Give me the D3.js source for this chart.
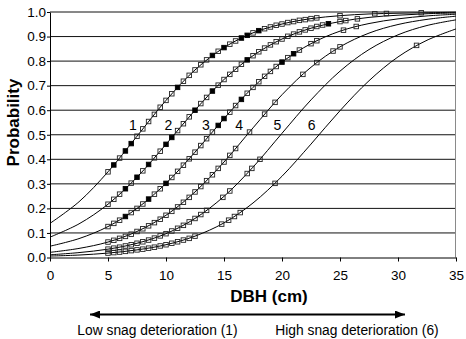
<!DOCTYPE html>
<html>
<head>
<meta charset="utf-8">
<script src="https://cdn.jsdelivr.net/npm/d3@7"></script>
<style>
  body { margin: 0; background: #fff; }
  svg { display: block; font-family: 'Liberation Sans', Arial, sans-serif; }
</style>
</head>
<body>
<div id="chart"></div>
<script>
// axis ticks
const dbhTicks = [0, 5, 10, 15, 20, 25, 30, 35];
const probTicks = [0, 0.1, 0.2, 0.3, 0.4, 0.5, 0.6, 0.7, 0.8, 0.9, 1.0];

// smooth curves, read every 2.5 cm
const lineDbh = [0, 2.5, 5, 7.5, 10, 12.5, 15, 17.5, 20, 22.5, 25, 27.5, 30, 32.5, 35];
const line1 = [0.139, 0.227, 0.349, 0.494, 0.640, 0.764, 0.855, 0.915, 0.951, 0.973, 0.985, 0.992, 0.995, 0.997, 0.999];
const line2 = [0.083, 0.137, 0.217, 0.327, 0.461, 0.600, 0.725, 0.822, 0.890, 0.934, 0.961, 0.978, 0.987, 0.993, 0.996];
const line3 = [0.046, 0.077, 0.126, 0.200, 0.302, 0.429, 0.566, 0.693, 0.796, 0.871, 0.922, 0.953, 0.972, 0.984, 0.991];
const line4 = [0.021, 0.037, 0.063, 0.106, 0.172, 0.267, 0.389, 0.528, 0.663, 0.775, 0.858, 0.914, 0.949, 0.970, 0.983];
const line5 = [0.011, 0.020, 0.034, 0.058, 0.097, 0.159, 0.249, 0.368, 0.506, 0.642, 0.759, 0.847, 0.907, 0.945, 0.968];
const line6 = [0.006, 0.010, 0.018, 0.031, 0.052, 0.087, 0.141, 0.222, 0.331, 0.462, 0.598, 0.720, 0.817, 0.885, 0.931];

// observed snags: [dbh, probability], open and solid squares
const open1 = [[5.0, 0.349], [6.0, 0.405], [7.5, 0.494], [8.0, 0.524], [8.5, 0.554], [9.0, 0.583], [9.5, 0.612],
  [10.0, 0.640], [10.5, 0.667], [11.5, 0.718], [12.0, 0.742], [12.5, 0.764], [13.0, 0.785], [13.5, 0.805],
  [14.5, 0.840], [15.5, 0.869], [16.0, 0.882], [17.5, 0.915], [18.5, 0.932], [19.0, 0.939], [19.5, 0.946],
  [20.0, 0.951], [20.5, 0.957], [21.0, 0.961], [21.5, 0.966], [22.0, 0.969], [22.5, 0.973], [23.0, 0.976],
  [25.0, 0.985], [28.0, 0.993], [29.0, 0.994], [32.0, 0.997]];
const solid1 = [[5.5, 0.377], [6.5, 0.434], [7.0, 0.464], [11.0, 0.693], [14.0, 0.823], [15.0, 0.855],
  [16.5, 0.894], [17.0, 0.905], [18.0, 0.924]];

const open2 = [[5.0, 0.217], [5.5, 0.237], [6.0, 0.258], [7.0, 0.303], [8.0, 0.353], [9.0, 0.406], [9.5, 0.433],
  [11.0, 0.517], [11.5, 0.545], [12.0, 0.573], [13.0, 0.627], [13.5, 0.652], [14.5, 0.702], [15.0, 0.725],
  [15.5, 0.746], [16.0, 0.767], [16.5, 0.787], [17.5, 0.822], [18.0, 0.838], [18.5, 0.853], [19.0, 0.866],
  [19.5, 0.879], [20.0, 0.890], [20.5, 0.901], [21.0, 0.910], [21.5, 0.919], [22.0, 0.927], [22.5, 0.934],
  [23.0, 0.941], [23.5, 0.947], [25.0, 0.961], [25.5, 0.965], [26.5, 0.972]];
const solid2 = [[6.5, 0.280], [7.5, 0.327], [8.5, 0.379], [10.0, 0.461], [10.5, 0.489], [12.5, 0.600],
  [14.0, 0.678], [17.0, 0.805], [24.0, 0.952]];

const open3 = [[5.0, 0.126], [5.5, 0.139], [6.0, 0.152], [7.0, 0.183], [7.5, 0.200], [8.0, 0.218], [9.0, 0.258],
  [9.5, 0.280], [10.5, 0.326], [11.0, 0.351], [11.5, 0.376], [12.0, 0.402], [12.5, 0.429], [13.0, 0.456],
  [13.5, 0.484], [14.0, 0.511], [15.5, 0.592], [16.0, 0.619], [17.0, 0.669], [17.5, 0.693], [18.0, 0.716],
  [18.5, 0.738], [19.0, 0.758], [19.5, 0.778], [20.5, 0.814], [21.5, 0.845], [22.5, 0.871], [23.0, 0.883],
  [25.3, 0.926], [26.4, 0.941]];
const solid3 = [[6.5, 0.167], [8.5, 0.238], [10.0, 0.302], [14.5, 0.538], [15.0, 0.566], [16.5, 0.644],
  [20.0, 0.796], [21.0, 0.830]];

const open4 = [[5.0, 0.063], [5.5, 0.070], [6.0, 0.078], [6.5, 0.086], [7.0, 0.095], [7.5, 0.106], [8.0, 0.117],
  [8.5, 0.129], [9.0, 0.142], [9.5, 0.156], [10.0, 0.172], [10.5, 0.188], [11.0, 0.206], [11.5, 0.225],
  [12.0, 0.245], [12.5, 0.267], [13.0, 0.289], [13.5, 0.313], [14.0, 0.337], [14.5, 0.363], [15.0, 0.389],
  [15.5, 0.416], [16.0, 0.444], [17.2, 0.511], [18.5, 0.584], [19.4, 0.632], [21.8, 0.746], [23.0, 0.794],
  [24.4, 0.841], [25.0, 0.858]];

const open5 = [[5.0, 0.034], [5.5, 0.038], [6.0, 0.042], [6.5, 0.047], [7.0, 0.052], [7.5, 0.058], [8.0, 0.064],
  [8.5, 0.071], [9.0, 0.079], [9.5, 0.088], [10.0, 0.097], [10.5, 0.108], [11.0, 0.119], [11.5, 0.131],
  [12.0, 0.145], [12.5, 0.159], [13.0, 0.175], [13.5, 0.192], [14.9, 0.245], [15.5, 0.271], [17.0, 0.342],
  [17.4, 0.363], [18.1, 0.400]];

const open6 = [[5.0, 0.018], [5.5, 0.020], [6.0, 0.022], [6.5, 0.025], [7.0, 0.028], [7.5, 0.031], [8.0, 0.034],
  [8.5, 0.038], [9.0, 0.042], [9.5, 0.047], [10.0, 0.052], [10.5, 0.058], [11.0, 0.064], [11.5, 0.071],
  [12.0, 0.078], [12.5, 0.087], [14.8, 0.136], [15.4, 0.152], [15.9, 0.167], [16.4, 0.183], [19.4, 0.302],
  [31.6, 0.864]];

// curve numbers written beside each line
const curveLabels = ['1', '2', '3', '4', '5', '6'];
const labelDbh = [7.15, 10.2, 13.45, 16.3, 19.6, 22.55];
const labelProb = [0.54, 0.54, 0.54, 0.54, 0.54, 0.54];

const xTitle = 'DBH (cm)';
const yTitle = 'Probability';
const lowText = 'Low snag deterioration (1)';
const highText = 'High snag deterioration (6)';
const arrowDbh = [3.45, 30.6]; // span of the arrow under the axis

const width = 466;
const height = 339;
const margin = { top: 12, right: 10, bottom: 81.5, left: 50 };

const series = [
  { line: line1, open: open1, solid: solid1 },
  { line: line2, open: open2, solid: solid2 },
  { line: line3, open: open3, solid: solid3 },
  { line: line4, open: open4, solid: [] },
  { line: line5, open: open5, solid: [] },
  { line: line6, open: open6, solid: [] },
];

const xScale = d3.scaleLinear().domain([0, 35]).range([margin.left, width - margin.right]);
const yScale = d3.scaleLinear().domain([0, 1]).range([height - margin.bottom, margin.top]);

const svg = d3.select('#chart')
  .append('svg')
  .attr('width', width)
  .attr('height', height);

// horizontal grid
svg.append('g')
  .selectAll('line')
  .data(probTicks.filter((d) => d > 0))
  .join('line')
  .attr('x1', xScale(0))
  .attr('x2', xScale(35))
  .attr('y1', (d) => yScale(d))
  .attr('y2', (d) => yScale(d))
  .attr('stroke', '#111')
  .attr('stroke-width', 1);

// right border of the plot
svg.append('line')
  .attr('x1', xScale(35) - 0.5)
  .attr('x2', xScale(35) - 0.5)
  .attr('y1', yScale(1))
  .attr('y2', yScale(0))
  .attr('stroke', '#8a8a8a');

const lineGen = d3.line()
  .x((d, i) => xScale(lineDbh[i]))
  .y((d) => yScale(d))
  .curve(d3.curveCatmullRom.alpha(0.5));

const curves = svg.append('g');
series.forEach((s) => {
  curves.append('path')
    .attr('d', lineGen(s.line))
    .attr('fill', 'none')
    .attr('stroke', '#000')
    .attr('stroke-width', 1);
});

const box = 4.5;
series.forEach((s) => {
  curves.append('g')
    .selectAll('rect')
    .data(s.open)
    .join('rect')
    .attr('x', (d) => xScale(d[0]) - box / 2)
    .attr('y', (d) => yScale(d[1]) - box / 2)
    .attr('width', box)
    .attr('height', box)
    .attr('fill', 'none')
    .attr('stroke', '#222')
    .attr('stroke-width', 0.9);

  curves.append('g')
    .selectAll('rect')
    .data(s.solid)
    .join('rect')
    .attr('x', (d) => xScale(d[0]) - box / 2)
    .attr('y', (d) => yScale(d[1]) - box / 2)
    .attr('width', box)
    .attr('height', box)
    .attr('fill', '#000')
    .attr('stroke', '#000')
    .attr('stroke-width', 0.9);
});

svg.append('g')
  .selectAll('text')
  .data(curveLabels)
  .join('text')
  .attr('x', (d, i) => xScale(labelDbh[i]))
  .attr('y', (d, i) => yScale(labelProb[i]))
  .attr('dy', '0.36em')
  .attr('text-anchor', 'middle')
  .style('font-size', '14px')
  .text((d) => d);

// axes
const yAxis = svg.append('g')
  .attr('transform', `translate(${margin.left},0)`)
  .call(d3.axisLeft(yScale).tickValues(probTicks).tickFormat(d3.format('.1f'))
    .tickSize(3).tickSizeOuter(0).tickPadding(1));
yAxis.selectAll('text').style('font-size', '13.5px').attr('fill', '#000')
  .style('font-family', "'Liberation Sans', Arial, sans-serif");
yAxis.selectAll('line, path').attr('stroke', '#000');

const xAxis = svg.append('g')
  .attr('transform', `translate(0,${height - margin.bottom})`)
  .call(d3.axisBottom(xScale).tickValues(dbhTicks).tickFormat(d3.format('d'))
    .tickSize(4).tickSizeOuter(0).tickPadding(9));
xAxis.selectAll('text').style('font-size', '13.5px').attr('fill', '#000')
  .style('font-family', "'Liberation Sans', Arial, sans-serif");
xAxis.selectAll('line, path').attr('stroke', '#000');

svg.append('text')
  .attr('x', 269)
  .attr('y', 302)
  .attr('text-anchor', 'middle')
  .style('font-size', '17px')
  .style('font-weight', 'bold')
  .text(xTitle);

svg.append('text')
  .attr('transform', 'translate(19,122.5) rotate(-90)')
  .attr('text-anchor', 'middle')
  .style('font-size', '17px')
  .style('font-weight', 'bold')
  .text(yTitle);

// deterioration arrow
const defs = svg.append('defs');
['start', 'end'].forEach((k) => {
  defs.append('marker')
    .attr('id', `head-${k}`)
    .attr('viewBox', '0 0 10 8')
    .attr('refX', k === 'end' ? 10 : 0)
    .attr('refY', 4)
    .attr('markerWidth', 10)
    .attr('markerHeight', 8)
    .attr('markerUnits', 'userSpaceOnUse')
    .attr('orient', 'auto')
    .append('path')
    .attr('d', k === 'end' ? 'M0,0 L10,4 L0,8 z' : 'M10,0 L0,4 L10,8 z')
    .attr('fill', '#000');
});

svg.append('line')
  .attr('x1', xScale(arrowDbh[0]))
  .attr('x2', xScale(arrowDbh[1]))
  .attr('y1', 314.5)
  .attr('y2', 314.5)
  .attr('stroke', '#000')
  .attr('stroke-width', 2)
  .attr('marker-start', 'url(#head-start)')
  .attr('marker-end', 'url(#head-end)');

svg.append('text')
  .attr('x', 157.5)
  .attr('y', 335)
  .attr('text-anchor', 'middle')
  .style('font-size', '13.8px')
  .text(lowText);

svg.append('text')
  .attr('x', 357)
  .attr('y', 335)
  .attr('text-anchor', 'middle')
  .style('font-size', '13.8px')
  .text(highText);
</script>
</body>
</html>
